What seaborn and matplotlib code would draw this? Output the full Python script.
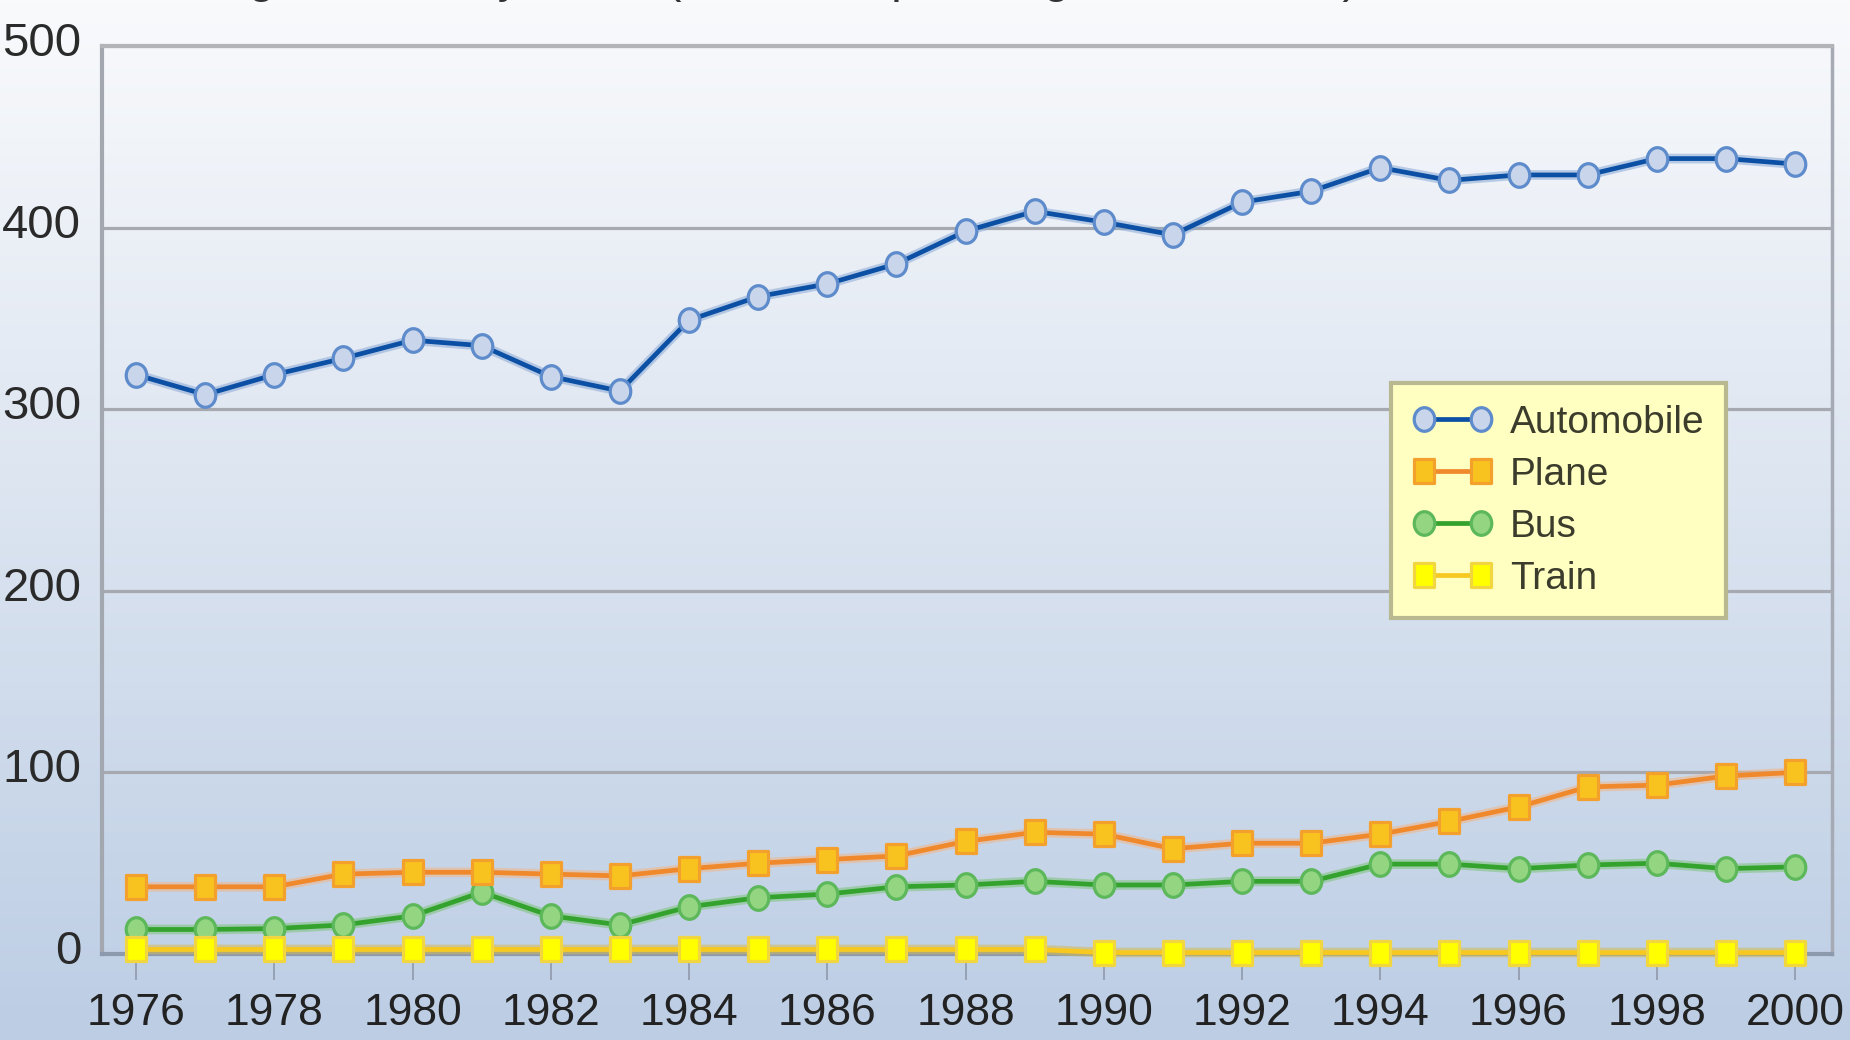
import numpy as np
import pandas as pd
import matplotlib
matplotlib.use("Agg")
import matplotlib.pyplot as plt
import seaborn as sns
from matplotlib.path import Path
from matplotlib.transforms import Affine2D, ScaledTranslation
from matplotlib.markers import MarkerStyle

# ---------------- data ----------------
years = [1976, 1977, 1978, 1979, 1980, 1981, 1982, 1983, 1984, 1985, 1986, 1987,
         1988, 1989, 1990, 1991, 1992, 1993, 1994, 1995, 1996, 1997, 1998, 1999, 2000]
automobile = [319, 308, 319, 328, 338, 335, 318, 310, 349, 362, 369, 380,
              398, 409, 403, 396, 414, 420, 433, 426, 429, 429, 438, 438, 435]
plane = [37, 37, 37, 44, 45, 45, 44, 43, 47, 50, 52, 54,
         62, 67, 66, 58, 61, 61, 66, 73, 81, 92, 93, 98, 100]
bus = [13.5, 13.5, 14, 16, 21, 34, 21, 16, 26, 31, 33, 37,
       38, 40, 38, 38, 40, 40, 49.5, 49.5, 47, 49, 50, 47, 48]
train = [2.5, 2.5, 2.5, 2.5, 2.5, 2.5, 2.5, 2.5, 2.5, 2.5, 2.5, 2.5,
         2.5, 2.5, 0.8, 0.8, 0.8, 0.8, 0.8, 0.8, 0.8, 0.8, 0.8, 0.8, 0.8]
series_names = ["Automobile", "Plane", "Bus", "Train"]
x_ticks = [1976, 1978, 1980, 1982, 1984, 1986, 1988, 1990, 1992, 1994, 1996, 1998, 2000]
y_ticks = [0, 100, 200, 300, 400, 500]
title_text = "Passenger travel, by mode (billions of passenger-kilometers)"

df = pd.DataFrame({"year": years, "Automobile": automobile, "Plane": plane,
                   "Bus": bus, "Train": train})
long = df.melt(id_vars="year", var_name="mode", value_name="value")

# ---------------- style ----------------
sns.set_theme(style="white")
plt.rcParams["font.family"] = ["Liberation Sans", "DejaVu Sans"]

ellipse = Path.unit_circle().transformed(Affine2D().scale(0.87, 1.0))
rect = Path([(-0.87, -1), (0.87, -1), (0.87, 1), (-0.87, 1), (-0.87, -1)],
            [Path.MOVETO, Path.LINETO, Path.LINETO, Path.LINETO, Path.CLOSEPOLY])

styles = {
    "Automobile": dict(line="#0b50a4", halo="#8aa9d6", marker=ellipse,
                       face="#c9d5ea", edge="#5d8bcb", z=6),
    "Plane": dict(line="#f0882c", halo="#f2b585", marker=rect,
                  face="#f9c31f", edge="#f3a12c", z=5),
    "Bus": dict(line="#33a32e", halo="#7cc478", marker=ellipse,
                face="#94d582", edge="#5cb85a", z=4),
    "Train": dict(line="#f6c820", halo="#d2bb55", marker=rect,
                  face="#ffff00", edge="#f2d640", z=7),
}

fig = plt.figure(figsize=(18.5, 10.4), dpi=100)

# background gradient over the whole figure
bg = fig.add_axes([0, 0, 1, 1], zorder=-10)
g = np.linspace(0, 1, 256).reshape(-1, 1, 1)
top_c = np.array([249, 250, 252]) / 255.0
bot_c = np.array([188, 205, 228]) / 255.0
img = top_c + (bot_c - top_c) * g
bg.imshow(img, aspect="auto", extent=[0, 1, 0, 1], origin="upper")
bg.set_xlim(0, 1)
bg.set_ylim(0, 1)
bg.axis("off")

ax = fig.add_axes([102 / 1850, 1 - 954 / 1040, (1832 - 102) / 1850, (954 - 46) / 1040])
ax.patch.set_alpha(0)

for name in series_names:
    st = styles[name]
    sub = long[long["mode"] == name]
    sns.lineplot(data=sub, x="year", y="value", ax=ax, color=st["halo"],
                 linewidth=7, alpha=0.55, errorbar=None, legend=False,
                 label="_nolegend_", zorder=st["z"] - 0.5, clip_on=False)
    sns.lineplot(data=sub, x="year", y="value", ax=ax, color=st["line"],
                 linewidth=3.4, errorbar=None, label=name,
                 marker=MarkerStyle(st["marker"]), markersize=17,
                 markerfacecolor=st["face"], markeredgecolor=st["edge"],
                 markeredgewidth=2.3, zorder=st["z"], clip_on=False)

ax.set_xlim(1975.508, 2000.535)
ax.set_ylim(0, 500)
ax.set_xticks(x_ticks)
ax.set_xticklabels([str(v) for v in x_ticks])
ax.set_yticks(y_ticks)
ax.set_yticklabels([str(v) for v in y_ticks])
ax.set_xlabel("")
ax.set_ylabel("")

ax.tick_params(axis="x", bottom=True, length=19, width=1.2, color="#8f9aab",
               pad=9, labelsize=32, labelcolor="#222222", direction="out")
ax.tick_params(axis="y", left=False, length=0, pad=15, labelsize=34,
               labelcolor="#2a2a2a")
# y labels sit slightly above their gridlines in the reference
up = ScaledTranslation(0, 7 / 100, fig.dpi_scale_trans)
for lab in ax.get_yticklabels():
    lab.set_transform(lab.get_transform() + up)

ax.yaxis.grid(True, color="#a6a9b0", linewidth=2.3)
ax.xaxis.grid(False)
ax.set_axisbelow(True)

spine_style = {"top": ("#b3b4b7", 3.0), "left": ("#a3a7af", 3.0),
               "right": ("#a5aab4", 2.5), "bottom": ("#8d99ad", 3.0)}
for k, (c, w) in spine_style.items():
    ax.spines[k].set_visible(True)
    ax.spines[k].set_color(c)
    ax.spines[k].set_linewidth(w)

handles, labels = ax.get_legend_handles_labels()
pairs = [(h, l) for h, l in zip(handles, labels) if l in series_names]
leg = ax.legend([p[0] for p in pairs], [p[1] for p in pairs],
                loc="upper left", bbox_to_anchor=(1391 / 1850, 1 - 383 / 1040),
                bbox_transform=fig.transFigure, borderaxespad=0, fontsize=28,
                frameon=True, fancybox=False, framealpha=1, facecolor="#ffffc2",
                edgecolor="#b9b991", borderpad=0.56, labelspacing=0.41,
                handlelength=2.05, handletextpad=0.45, numpoints=2)
leg.get_frame().set_linewidth(3)
leg.set_zorder(20)
for t in leg.get_texts():
    t.set_color("#3c3c2c")

# title, cut off by the top edge as in the reference
fig.text(91 / 1850, 1 + 8.5 / 1040, title_text, fontsize=34, color="#333333",
         ha="left", va="baseline")

fig.savefig("out.png", dpi=100)
